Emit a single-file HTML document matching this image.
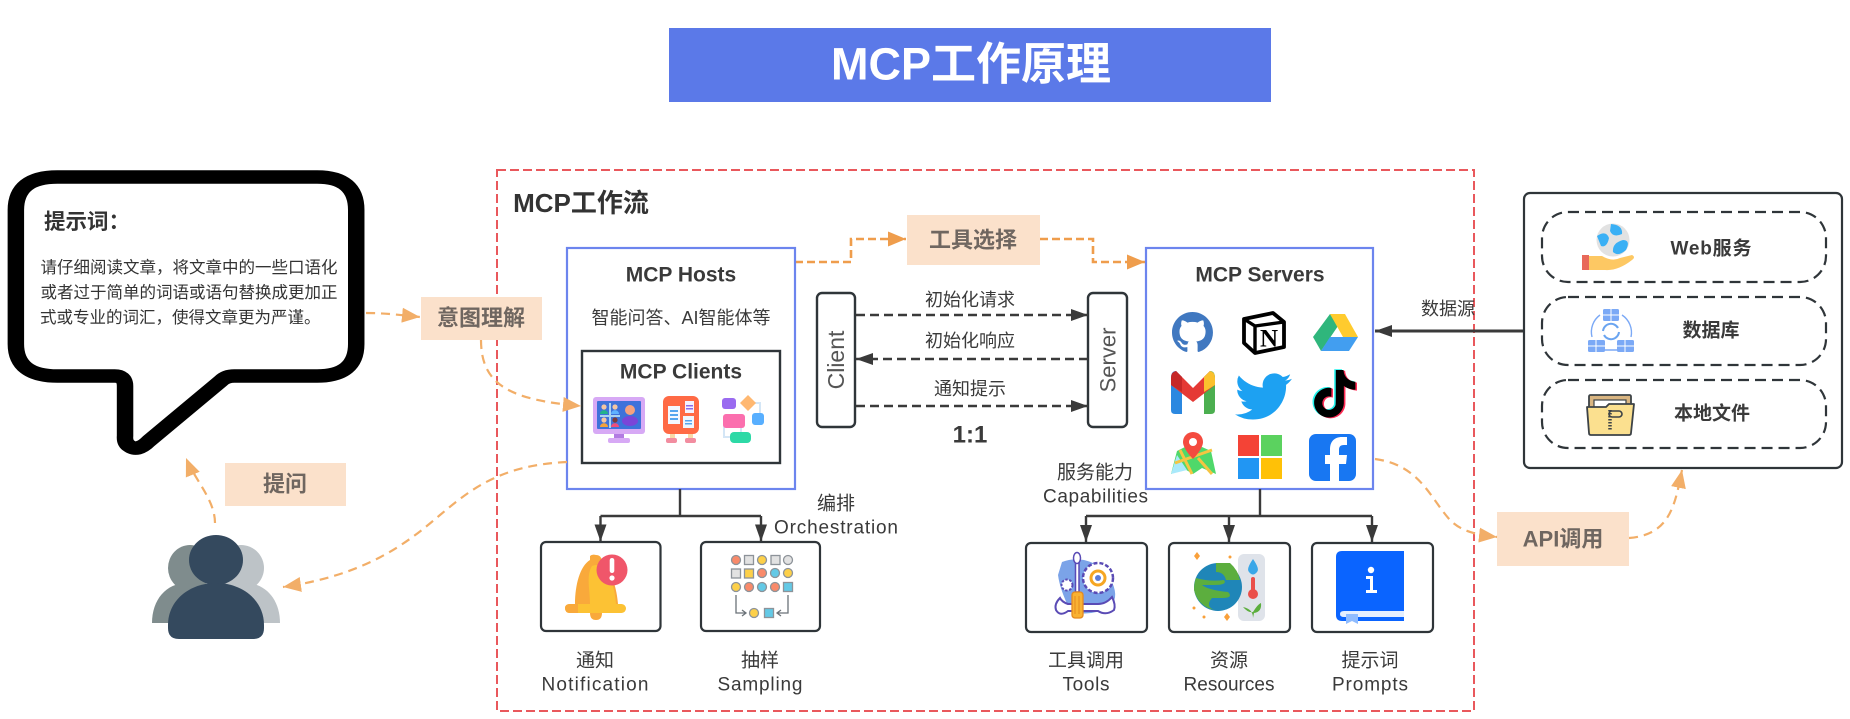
<!DOCTYPE html>
<html><head><meta charset="utf-8"><title>MCP工作原理</title>
<style>
html,body{margin:0;padding:0;background:#fff;width:1850px;height:719px;overflow:hidden}
svg{display:block}
text{font-family:"Liberation Sans","Noto Sans CJK SC",sans-serif;text-anchor:middle;dominant-baseline:central;fill:#3a3a3a}
.b{font-weight:bold}
.lab{font-weight:bold;font-size:22px;fill:#6f6660}
.t{font-size:18px}
.n{font-size:19px}
.box{fill:#fff;stroke:#2f3539;stroke-width:2.2}
.oa{fill:none;stroke:#f2ae68;stroke-width:2.2;stroke-dasharray:9 6}
.ob{fill:none;stroke:#ef9d4c;stroke-width:2.6;stroke-dasharray:8 4}
.bk{fill:none;stroke:#3a3a3a;stroke-width:2.4}
.da{fill:none;stroke:#3a3a3a;stroke-width:2.4;stroke-dasharray:9 5}
</style></head><body>
<svg width="1850" height="719" viewBox="0 0 1850 719" xmlns="http://www.w3.org/2000/svg">
<defs>
<marker id="o" markerUnits="userSpaceOnUse" markerWidth="19" markerHeight="16" refX="18" refY="8" orient="auto"><path d="M0,0.5L18,8L0,15.500z" fill="#f2ae68"/></marker>
<marker id="o2" markerUnits="userSpaceOnUse" markerWidth="19" markerHeight="16" refX="18" refY="8" orient="auto"><path d="M0,0.5L18,8L0,15.500z" fill="#ef9d4c"/></marker>
<marker id="k" markerUnits="userSpaceOnUse" markerWidth="18" markerHeight="14" refX="17" refY="6.500" orient="auto"><path d="M0,0.5L17,6.500L0,12.500z" fill="#3a3a3a"/></marker>
</defs>

<!-- Title -->
<rect x="669" y="28" width="602" height="74" fill="#5b79e8"/>
<text x="971" y="64" class="b" style="font-size:45px;fill:#fff">MCP工作原理</text>

<!-- Workflow frame -->
<rect x="497" y="170" width="977" height="541" fill="none" stroke="#e9585c" stroke-width="2" stroke-dasharray="9 4"/>
<text x="581" y="203" class="b" style="font-size:26px;fill:#333">MCP工作流</text>

<!-- Bubble -->
<g transform="scale(1.22 1)">
<path d="M47,177 H260 Q292,177 292,210 V344 Q292,376 260,376 H192 Q185,376 181,381 L122,441 Q113,452 106,446 Q102,443 102.500,436 V386 Q102.500,376 94,376 H47 Q13,376 13,344 V210 Q13,177 47,177 Z" fill="#fff" stroke="#000" stroke-width="13.500" stroke-linejoin="round"/>
</g>
<text x="44" y="222" class="b" style="font-size:21.500px;fill:#333;text-anchor:start">提示词：</text>
<text x="189" y="268" style="font-size:16.500px;fill:#333">请仔细阅读文章，将文章中的一些口语化</text>
<text x="189" y="293" style="font-size:16.500px;fill:#333">或者过于简单的词语或语句替换成更加正</text>
<text x="40" y="318" style="font-size:16.500px;fill:#333;text-anchor:start">式或专业的词汇，使得文章更为严谨。</text>

<!-- orange labels -->
<rect x="421" y="297" width="121" height="43" fill="#fbe1cb"/><text x="481" y="318" class="lab">意图理解</text>
<rect x="907" y="215" width="133" height="50" fill="#fbe1cb"/><text x="973" y="240" class="lab">工具选择</text>
<rect x="225" y="463" width="121" height="43" fill="#fbe1cb"/><text x="285" y="484" class="lab">提问</text>
<rect x="1497" y="512" width="132" height="54" fill="#fbe1cb"/><text x="1563" y="539" class="lab">API调用</text>

<!-- orange connectors -->
<path class="oa" d="M366,313 C385,313 400,315 420,317" marker-end="url(#o)"/>
<path class="oa" d="M215,523 C215,500 195,480 186,458" marker-end="url(#o)"/>
<path class="oa" d="M1375,459 C1420,465 1430,498 1450,520 C1462,532 1478,535 1497,537" marker-end="url(#o)"/>
<path class="oa" d="M1629,538 C1670,535 1675,505 1682,470" marker-end="url(#o)"/>
<path class="ob" d="M795,262 H851 V239 H906" marker-end="url(#o2)"/>
<path class="ob" d="M1040,239 H1093 V262 H1145" marker-end="url(#o2)"/>

<!-- Hosts -->
<rect x="567" y="248" width="228" height="241" fill="#fff" stroke="#6c85ee" stroke-width="2.200"/>
<text x="681" y="275" class="b" style="font-size:21px">MCP Hosts</text>
<text x="681" y="318" style="font-size:18px">智能问答、AI智能体等</text>
<rect x="582" y="351" width="198" height="112" fill="#fff" stroke="#2f3539" stroke-width="2.400"/>
<text x="681" y="372" class="b" style="font-size:21px">MCP Clients</text>

<path class="oa" d="M481,340 C481,385 510,400 581,406" marker-end="url(#o)"/>
<path class="oa" d="M567,462 C500,465 470,490 440,515 C405,545 365,575 283,587" marker-end="url(#o)"/>

<!-- monitor -->
<rect x="593" y="397" width="52" height="37" rx="3" fill="#d7a9f5"/>
<rect x="597" y="401" width="44" height="28" rx="1" fill="#3e72da"/>
<rect x="609" y="403" width="2" height="25" fill="#a9d2ef"/><rect x="600" y="415" width="20" height="2" fill="#a9d2ef"/>
<circle cx="604" cy="407" r="2.600" fill="#f4c6a2"/><path d="M600,414c0-5 8-5 8,0z" fill="#22b48a"/>
<circle cx="615" cy="407" r="2.600" fill="#f4c6a2"/><path d="M611,414c0-5 8-5 8,0z" fill="#5fb2ff"/>
<circle cx="604" cy="420" r="2.600" fill="#f4c6a2"/><path d="M600,427c0-5 8-5 8,0z" fill="#f5a23c"/>
<circle cx="615" cy="420" r="2.600" fill="#7a3b3b"/><path d="M611,427c0-5 8-5 8,0z" fill="#ef4d7a"/>
<circle cx="630" cy="410" r="5" fill="#f6a27e"/><ellipse cx="630" cy="421" rx="8" ry="5" fill="#7a45d8"/>
<rect x="614" y="434" width="10" height="4" fill="#b27be2"/><rect x="608" y="438" width="22" height="5" rx="2" fill="#d7a9f5"/>
<!-- board -->
<rect x="663" y="396" width="36" height="38" rx="6" fill="#ff6a45"/>
<rect x="668" y="406" width="12" height="18" fill="#f4f8ff"/><rect x="670" y="410" width="8" height="2" fill="#55a6ef"/><rect x="670" y="414" width="8" height="2" fill="#55a6ef"/><rect x="670" y="418" width="8" height="2" fill="#55a6ef"/>
<rect x="685" y="401" width="9" height="12" fill="#f4f2ff"/><rect x="686" y="405" width="7" height="1.500" fill="#8b6be8"/><rect x="686" y="408" width="7" height="1.500" fill="#8b6be8"/>
<rect x="683" y="416" width="11" height="12" fill="#eef6ff"/><rect x="685" y="420" width="7" height="1.500" fill="#55a6ef"/><rect x="685" y="423" width="7" height="1.500" fill="#55a6ef"/>
<rect x="670" y="434" width="5" height="5" fill="#f8d9a8"/><rect x="688" y="434" width="5" height="5" fill="#f8d9a8"/>
<rect x="666" y="438" width="11" height="5" rx="2" fill="#f28da0"/><rect x="685" y="438" width="11" height="5" rx="2" fill="#f28da0"/>
<!-- flow -->
<path d="M748,403H760V418M734,421H724V437H732M741,428V434" fill="none" stroke="#d4e6f6" stroke-width="2"/>
<rect x="722" y="398" width="14" height="11" rx="3" fill="#9a6bf0"/>
<path d="M748,395L756,403L748,411L740,403z" fill="#ffb871"/>
<rect x="723" y="414" width="22" height="14" rx="3" fill="#fb6fae"/>
<rect x="752" y="413" width="12" height="12" rx="3" fill="#58afff"/>
<rect x="730" y="432" width="21" height="11" rx="4" fill="#2dd9a6"/>

<!-- Client / Server -->
<rect x="817" y="293" width="38" height="134" rx="5" fill="#fff" stroke="#2f3539" stroke-width="2.400"/>
<text transform="translate(836 360) rotate(-90)" style="font-size:23px;fill:#555">Client</text>
<rect x="1088" y="293" width="39" height="134" rx="5" fill="#fff" stroke="#2f3539" stroke-width="2.400"/>
<text transform="translate(1108 360) rotate(-90)" style="font-size:22px;fill:#555">Server</text>
<path class="da" d="M856,315H1088" marker-end="url(#k)"/>
<path class="da" d="M1088,359H856" marker-end="url(#k)"/>
<path class="da" d="M856,406H1088" marker-end="url(#k)"/>
<text x="970" y="300" class="t">初始化请求</text>
<text x="970" y="341" class="t">初始化响应</text>
<text x="970" y="389" class="t">通知提示</text>
<text x="970" y="435" class="b" style="font-size:24px">1:1</text>

<!-- Servers -->
<rect x="1146" y="248" width="227" height="241" fill="#fff" stroke="#6c85ee" stroke-width="2.200"/>
<text x="1260" y="275" class="b" style="font-size:21px">MCP Servers</text>

<!-- github -->
<g transform="translate(1172 312) scale(2.56)"><path fill="#4078c0" d="M8 0C3.58 0 0 3.58 0 8c0 3.54 2.29 6.53 5.47 7.59.4.07.55-.17.55-.38 0-.19-.01-.82-.01-1.49-2.01.37-2.53-.49-2.69-.94-.09-.23-.48-.94-.82-1.13-.28-.15-.68-.52-.01-.53.63-.01 1.08.58 1.23.82.72 1.21 1.87.87 2.33.66.07-.52.28-.87.51-1.07-1.78-.2-3.64-.89-3.64-3.95 0-.87.31-1.59.82-2.15-.08-.2-.36-1.02.08-2.12 0 0 .67-.21 2.2.82.64-.18 1.32-.27 2-.27s1.36.09 2 .27c1.53-1.04 2.2-.82 2.2-.82.44 1.1.16 1.92.08 2.12.51.56.82 1.27.82 2.15 0 3.07-1.87 3.75-3.65 3.95.29.25.54.73.54 1.48 0 1.07-.01 1.93-.01 2.2 0 .21.15.46.55.38A8.013 8.013 0 0016 8c0-4.42-3.58-8-8-8z"/></g>
<!-- notion -->
<path d="M1244,319L1273,313L1284,322V347L1255,353L1244,343Z" fill="#fff" stroke="#000" stroke-width="3.800" stroke-linejoin="round"/>
<path d="M1244,319L1255,326L1284,322M1255,326V353" fill="none" stroke="#000" stroke-width="3.400"/>
<text x="1269" y="339" style="font-family:'Liberation Serif',serif;font-weight:bold;font-size:25px;fill:#000">N</text>
<!-- drive -->
<path d="M1330,314L1313,337L1321,351L1338,326Z" fill="#2fb67c"/>
<path d="M1330,314H1345L1358,337H1343Z" fill="#ffcb2e"/>
<path d="M1330,337H1358L1349,351H1321Z" fill="#429ef0"/>
<!-- gmail -->
<path d="M1171,378Q1171,371 1176,371L1182,377V414H1175Q1171,414 1171,410Z" fill="#2b88e0"/>
<path d="M1215,378Q1215,371 1210,371L1204,377V414H1211Q1215,414 1215,410Z" fill="#4caf50"/>
<path d="M1176,371L1193,388L1210,371L1215,378V385L1193,402L1171,385V378Z" fill="#e53935"/>
<path d="M1176,371L1182,377V392L1171,385V378Q1171,372 1176,371Z" fill="#c62828"/>
<path d="M1210,371L1204,377V392L1215,385V378Q1215,372 1210,371Z" fill="#fbc02d"/>
<!-- twitter -->
<g transform="translate(1235 368) scale(2.37)"><path fill="#1da1f2" d="M23.953 4.57a10 10 0 01-2.825.775 4.958 4.958 0 002.163-2.723c-.951.555-2.005.959-3.127 1.184a4.92 4.92 0 00-8.384 4.482C7.69 8.095 4.067 6.13 1.64 3.162a4.822 4.822 0 00-.666 2.475c0 1.71.87 3.213 2.188 4.096a4.904 4.904 0 01-2.228-.616v.06a4.923 4.923 0 003.946 4.827 4.996 4.996 0 01-2.212.085 4.936 4.936 0 004.604 3.417 9.867 9.867 0 01-6.102 2.105c-.39 0-.779-.023-1.17-.067a13.995 13.995 0 007.557 2.209c9.053 0 13.998-7.496 13.998-13.985 0-.21 0-.42-.015-.63A9.935 9.935 0 0024 4.59z"/></g>
<!-- tiktok -->
<g transform="translate(1311 370) scale(1.98)"><path fill="#25f4ee" transform="translate(-.8 -.4)" d="M12.525.02c1.31-.02 2.61-.01 3.91-.02.08 1.53.63 3.09 1.75 4.17 1.12 1.11 2.7 1.62 4.24 1.79v4.03c-1.44-.05-2.89-.35-4.2-.97-.57-.26-1.1-.59-1.62-.93-.01 2.92.01 5.84-.02 8.75-.08 1.4-.54 2.79-1.35 3.94-1.31 1.92-3.58 3.17-5.91 3.21-1.43.08-2.86-.31-4.08-1.03-2.02-1.19-3.44-3.37-3.65-5.71-.02-.5-.03-1-.01-1.49.18-1.9 1.12-3.72 2.58-4.96 1.66-1.44 3.98-2.13 6.15-1.72.02 1.48-.04 2.96-.04 4.44-.99-.32-2.15-.23-3.02.37-.63.41-1.11 1.04-1.36 1.75-.21.51-.15 1.07-.14 1.61.24 1.64 1.82 3.02 3.5 2.87 1.12-.01 2.19-.66 2.77-1.61.19-.33.4-.67.41-1.06.1-1.79.06-3.57.07-5.36.01-4.03-.01-8.05.02-12.07z"/><path fill="#fe2c55" transform="translate(.8 .4)" d="M12.525.02c1.31-.02 2.61-.01 3.91-.02.08 1.53.63 3.09 1.75 4.17 1.12 1.11 2.7 1.62 4.24 1.79v4.03c-1.44-.05-2.89-.35-4.2-.97-.57-.26-1.1-.59-1.62-.93-.01 2.92.01 5.84-.02 8.75-.08 1.4-.54 2.79-1.35 3.94-1.31 1.92-3.58 3.17-5.91 3.21-1.43.08-2.86-.31-4.08-1.03-2.02-1.19-3.44-3.37-3.65-5.71-.02-.5-.03-1-.01-1.49.18-1.9 1.12-3.72 2.58-4.96 1.66-1.44 3.98-2.13 6.15-1.72.02 1.48-.04 2.96-.04 4.44-.99-.32-2.15-.23-3.02.37-.63.41-1.11 1.04-1.36 1.75-.21.51-.15 1.07-.14 1.61.24 1.64 1.82 3.02 3.5 2.87 1.12-.01 2.19-.66 2.77-1.61.19-.33.4-.67.41-1.06.1-1.79.06-3.57.07-5.36.01-4.03-.01-8.05.02-12.07z"/><path fill="#000" d="M12.525.02c1.31-.02 2.61-.01 3.91-.02.08 1.53.63 3.09 1.75 4.17 1.12 1.11 2.7 1.62 4.24 1.79v4.03c-1.44-.05-2.89-.35-4.2-.97-.57-.26-1.1-.59-1.62-.93-.01 2.92.01 5.84-.02 8.75-.08 1.4-.54 2.79-1.35 3.94-1.31 1.92-3.58 3.17-5.91 3.21-1.43.08-2.86-.31-4.08-1.03-2.02-1.19-3.44-3.37-3.65-5.71-.02-.5-.03-1-.01-1.49.18-1.9 1.12-3.72 2.58-4.96 1.66-1.44 3.98-2.13 6.15-1.72.02 1.48-.04 2.96-.04 4.44-.99-.32-2.15-.23-3.02.37-.63.41-1.11 1.04-1.36 1.75-.21.51-.15 1.07-.14 1.61.24 1.64 1.82 3.02 3.5 2.87 1.12-.01 2.19-.66 2.77-1.61.19-.33.4-.67.41-1.06.1-1.79.06-3.57.07-5.36.01-4.03-.01-8.05.02-12.07z"/></g>
<!-- map -->
<path d="M1171,474L1177,451L1185,447L1193,452L1202,447L1211,451L1216,474L1202,468L1193,474L1183,468Z" fill="#4fd86a"/>
<path d="M1171,474L1177,455L1187,470Z" fill="#a9e9fb"/><path d="M1180,450L1192,474M1175,463L1212,450M1198,458L1212,474" stroke="#f5c542" stroke-width="3" fill="none"/>
<path d="M1193,432a10,10 0 0 1 10,10c0,7-10,17-10,17s-10-10-10-17a10,10 0 0 1 10-10z" fill="#f44b3f"/><circle cx="1193" cy="442" r="4" fill="#fff"/>
<!-- microsoft -->
<rect x="1238" y="435" width="21" height="21" fill="#f44336"/><rect x="1261" y="435" width="21" height="21" fill="#5bd25f"/>
<rect x="1238" y="458" width="21" height="21" fill="#2196f3"/><rect x="1261" y="458" width="21" height="21" fill="#ffc107"/>
<!-- facebook -->
<rect x="1309" y="434" width="47" height="47" rx="7" fill="#1877f2"/>
<path d="M1339,481V464H1346L1347,455H1339V450C1339,447 1340,445 1344,445H1347V437H1342C1334,437 1330,442 1330,449V455H1325V464H1330V481Z" fill="#fff"/>

<text x="1448" y="309" class="t">数据源</text>
<path d="M1524,331H1375" fill="none" stroke="#3a3a3a" stroke-width="3" marker-end="url(#k)"/>

<!-- Right box -->
<rect x="1524" y="193" width="318" height="275" rx="6" class="box"/>
<g fill="none" stroke="#2f3539" stroke-width="2.200" stroke-dasharray="11 6">
<rect x="1542" y="212" width="284" height="70" rx="26"/>
<rect x="1542" y="297" width="284" height="68" rx="26"/>
<rect x="1542" y="380" width="284" height="68" rx="26"/>
</g>
<text x="1711" y="249" class="b" style="font-size:19px" textLength="81">Web服务</text>
<text x="1711" y="331" class="b" style="font-size:19px">数据库</text>
<text x="1712" y="414" class="b" style="font-size:19px">本地文件</text>
<!-- web icon -->
<circle cx="1613" cy="240" r="16.500" fill="#e2e2e2"/>
<path d="M1597,236Q1606,230 1609,238Q1607,248 1601,246ZM1611,224Q1623,225 1622,234Q1613,238 1610,231ZM1613,252Q1612,243 1623,240Q1631,240 1626,250Q1618,257 1613,252Z" fill="#3ab0f5"/>
<path d="M1582,256H1602Q1612,262 1620,258L1632,255Q1636,257 1632,260Q1618,271 1605,270H1582Z" fill="#fdc863"/>
<rect x="1582" y="255" width="7" height="15" fill="#e8695a"/>
<!-- db icon -->
<g fill="#7ba9f6"><rect x="1603" y="309" width="16" height="12" rx="1.500"/><rect x="1588" y="340" width="17" height="12" rx="1.500"/><rect x="1617" y="340" width="17" height="12" rx="1.500"/></g>
<g fill="none" stroke="#fff" stroke-width="1"><path d="M1603,315H1619M1611,309V321M1588,346H1605M1596,340V352M1617,346H1634M1625,340V352"/></g>
<path d="M1600,315A21,21 0 0 0 1592,337M1622,315A21,21 0 0 1 1631,337M1605,350H1617" fill="none" stroke="#7ba9f6" stroke-width="1.400"/>
<path d="M1603,331A8,8 0 0 1 1618,328M1619,332A8,8 0 0 1 1604,335" fill="none" stroke="#6aa4f0" stroke-width="2"/>
<!-- folder -->
<rect x="1589" y="395" width="42" height="28" rx="1.500" fill="#d9b581" stroke="#3d4347" stroke-width="1.800"/>
<rect x="1594" y="400" width="32" height="14" fill="#fff" stroke="#3d4347" stroke-width="1.200"/>
<path d="M1587,407H1606L1609,404H1634L1631,433Q1631,435 1629,435H1591Q1589,435 1589,433Z" fill="#fbe08f" stroke="#3d4347" stroke-width="1.800" stroke-linejoin="round"/>
<path d="M1610,410V431" stroke="#3d4347" stroke-width="3.500" stroke-dasharray="1.500 1.500"/>
<rect x="1609" y="411" width="13" height="6" rx="3" fill="none" stroke="#3d4347" stroke-width="1.600"/>

<!-- Person -->
<ellipse cx="190" cy="568" rx="22" ry="23" fill="#7f8c8d"/>
<path d="M152,623C152,600 166,583 187,583C208,583 222,600 222,623Z" fill="#7f8c8d"/>
<ellipse cx="241" cy="568" rx="23" ry="23" fill="#bdc3c7"/>
<path d="M210,623C210,600 224,583 245,583C266,583 280,600 280,623Z" fill="#bdc3c7"/>
<ellipse cx="216" cy="560" rx="27" ry="25" fill="#34495e"/>
<path d="M168,625C168,600 190,583 216,583C242,583 264,600 264,625V628Q264,639 253,639H179Q168,639 168,628Z" fill="#34495e"/>

<!-- Hosts down -->
<path class="bk" d="M680,489V516M600.500,516H761"/>
<path class="bk" d="M600.500,516V541.500" marker-end="url(#k)"/>
<path class="bk" d="M761,516V541.500" marker-end="url(#k)"/>
<text x="836" y="504" class="n">编排</text>
<text x="836" y="528" class="n" textLength="124">Orchestration</text>
<rect x="541" y="542" width="119.500" height="89" rx="5" class="box"/>
<rect x="701" y="542" width="119" height="89" rx="5" class="box"/>
<!-- bell -->
<path d="M590,556Q592,554 596,555Q602,555 602,563C612,570 617,590 618,604H575C575,585 580,566 590,560Z" fill="#f9a93b"/>
<path d="M592,566C606,560 615,585 616,604H590C590,590 586,575 592,566Z" fill="#fcc234"/>
<rect x="565" y="604" width="61" height="9" rx="4.500" fill="#fcc234"/><path d="M565,608Q565,604 570,604H578V613H570Q565,613 565,608Z" fill="#f9a93b"/>
<path d="M590,613H602Q602,620 596,620Q590,620 590,613Z" fill="#f9a93b"/>
<circle cx="612" cy="570" r="15.500" fill="#f0566a"/>
<rect x="609.700" y="558" width="4.600" height="15" rx="2.300" fill="#fff"/><circle cx="612" cy="578" r="2.600" fill="#fff"/>
<!-- sampling -->
<g stroke="#8d9399" stroke-width="1.300">
<circle cx="736" cy="560" r="4.500" fill="#f98a6a"/><rect x="744.500" y="555.500" width="9" height="9" fill="#e2e2e2"/><circle cx="762" cy="560" r="4.500" fill="#fdd049"/><rect x="771" y="555.500" width="9" height="9" fill="#e2e2e2"/><circle cx="788" cy="560" r="4.500" fill="#e2e2e2"/>
<rect x="731.500" y="569" width="9" height="9" fill="#e2e2e2"/><rect x="744.500" y="569" width="9" height="9" fill="#fdd049"/><circle cx="762" cy="573" r="4.500" fill="#f98a6a"/><circle cx="775" cy="573" r="4.500" fill="#63c9e6"/><circle cx="788" cy="573" r="4.500" fill="#fdd049"/>
<circle cx="736" cy="587" r="4.500" fill="#fdd049"/><circle cx="749" cy="587" r="4.500" fill="#f98a6a"/><circle cx="762" cy="587" r="4.500" fill="#63c9e6"/><circle cx="775" cy="587" r="4.500" fill="#f98a6a"/><rect x="783.500" y="582.500" width="9" height="9" fill="#63c9e6"/>
<circle cx="754" cy="613" r="4.500" fill="#fdd049"/><rect x="764.500" y="608.500" width="9" height="9" fill="#63c9e6"/>
<path d="M736,595V613H745M742,610L746,613L742,616M788,595V613H778M781,610L777,613L781,616" fill="none" stroke="#6b7278"/>
</g>
<text x="595" y="661" class="n">通知</text><text x="595" y="685" class="n" textLength="107">Notification</text>
<text x="760" y="661" class="n">抽样</text><text x="760" y="685" class="n" textLength="85">Sampling</text>

<!-- Servers down -->
<text x="1095" y="473" class="n">服务能力</text>
<text x="1095.500" y="497" class="n" textLength="105">Capabilities</text>
<path class="bk" d="M1260,489V516M1086,516H1372"/>
<path class="bk" d="M1086,516V542" marker-end="url(#k)"/>
<path class="bk" d="M1229,516V542" marker-end="url(#k)"/>
<path class="bk" d="M1372,516V542" marker-end="url(#k)"/>
<rect x="1026" y="543" width="121" height="89" rx="5" class="box"/>
<rect x="1169" y="543" width="121" height="89" rx="5" class="box"/>
<rect x="1312" y="543" width="121" height="89" rx="5" class="box"/>
<!-- tools -->
<path d="M1062,562Q1072,558 1084,560Q1105,565 1112,582Q1120,600 1108,608Q1085,618 1070,610Q1060,590 1058,575Z" fill="#7ba3e8"/>
<circle cx="1098" cy="578" r="15" fill="#fff" stroke="#5a4bb5" stroke-width="2.500" stroke-dasharray="4 2"/>
<circle cx="1098" cy="578" r="7" fill="#fff" stroke="#f5a623" stroke-width="3"/><circle cx="1098" cy="578" r="3" fill="#5a7bd8"/>
<circle cx="1067" cy="585" r="5.500" fill="#fff" stroke="#5a4bb5" stroke-width="2" stroke-dasharray="2.500 1.500"/>
<path d="M1068,604H1098Q1106,604 1112,597Q1116,605 1114,610Q1106,616 1098,611H1068Q1060,617 1056,610Q1054,604 1060,598Q1062,602 1068,604Z" fill="#fff" stroke="#5a4bb5" stroke-width="2"/>
<rect x="1075.500" y="554" width="3.500" height="38" fill="#fff" stroke="#5a4bb5" stroke-width="1.500"/>
<ellipse cx="1077" cy="558" rx="3.500" ry="5.500" fill="#fff" stroke="#5a4bb5" stroke-width="1.500"/>
<rect x="1072" y="592" width="11" height="26" rx="3" fill="#f9b233" stroke="#e58a1f" stroke-width="1.300"/>
<path d="M1075,596V614M1079,596V614" stroke="#e58a1f"/>
<!-- resources -->
<rect x="1238" y="554" width="27" height="67" rx="6" fill="#dfe3ea"/>
<circle cx="1218" cy="587" r="24" fill="#1f86b8"/>
<path d="M1196,578Q1210,582 1224,580Q1228,585 1214,585H1202Q1208,590 1228,592Q1234,598 1222,598H1212Q1205,606 1214,610Q1198,606 1194,590Q1194,583 1196,578ZM1216,563H1230Q1238,570 1240,580H1226Q1224,572 1216,572Z" fill="#5cae3e"/>
<path d="M1253,559Q1260,569 1257,572Q1253,577 1249,572Q1246,569 1253,559Z" fill="#3aa7e8"/>
<rect x="1251" y="577" width="4" height="18" rx="2" fill="#ea4f4a"/><circle cx="1253" cy="594" r="5" fill="#ea4f4a"/>
<path d="M1253,618Q1253,609 1243,607Q1248,613 1253,612Q1258,604 1261,603Q1262,612 1254,613" fill="#5cae3e"/>
<g fill="#f9a03a"><path d="M1197,552l3,4-3,4-3-4zM1227,613l3,4-3,4-3-4z"/><circle cx="1230" cy="557" r="1.500"/><circle cx="1194" cy="608" r="1.500"/><circle cx="1204" cy="617" r="1.500"/></g>
<!-- prompts -->
<path d="M1342,551H1404V621H1342Q1336,621 1336,615V557Q1336,551 1342,551Z" fill="#0a64ff"/>
<path d="M1344,611H1404V617H1344Q1340,617 1340,614Q1340,611 1344,611Z" fill="#e4efff"/>
<path d="M1346,614H1358V624L1352,621L1346,624Z" fill="#8fbcff"/>
<circle cx="1371" cy="570" r="3.200" fill="#fff"/><path d="M1366,576H1373V590H1377V593H1366V590H1370V579H1366Z" fill="#fff"/>
<text x="1086" y="661" class="n">工具调用</text><text x="1086" y="685" class="n" textLength="47">Tools</text>
<text x="1229" y="661" class="n">资源</text><text x="1229" y="685" class="n" textLength="91">Resources</text>
<text x="1370" y="661" class="n">提示词</text><text x="1370" y="685" class="n" textLength="76">Prompts</text>
</svg>
</body></html>
